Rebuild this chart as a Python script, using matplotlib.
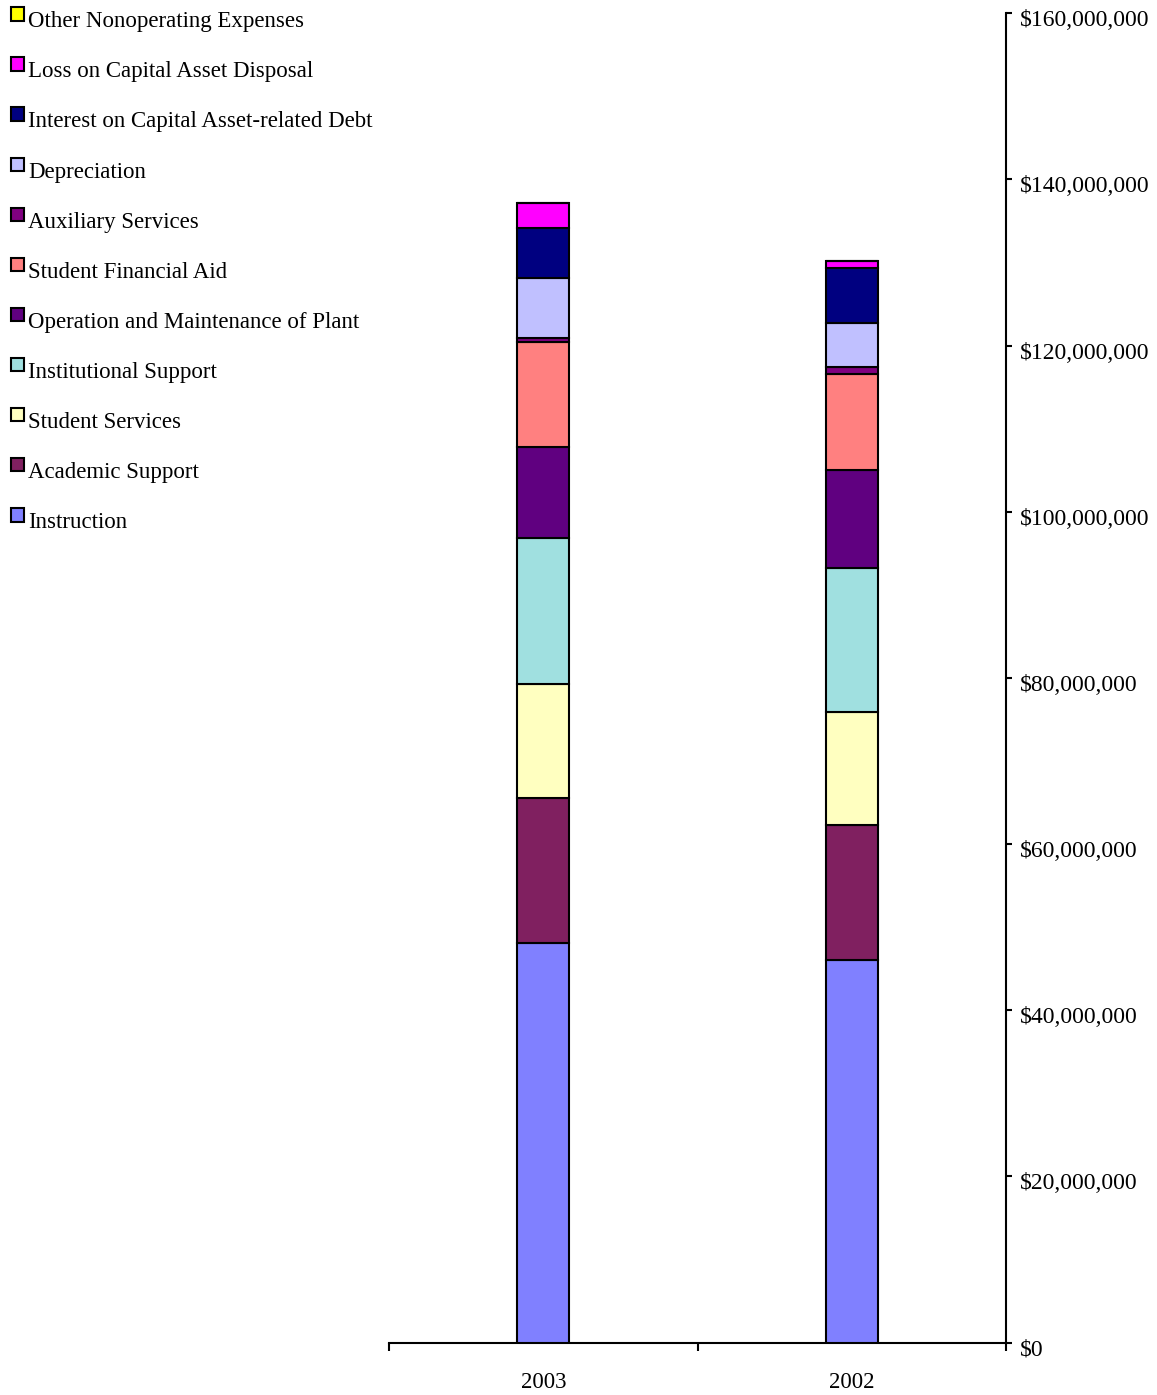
import matplotlib
matplotlib.use("Agg")
import matplotlib.pyplot as plt
from matplotlib.patches import Rectangle
from matplotlib.ticker import FuncFormatter, FixedLocator
from matplotlib.transforms import ScaledTranslation
import numpy as np

years = ["2003", "2002"]
series = [
    "Instruction",
    "Academic Support",
    "Student Services",
    "Institutional Support",
    "Operation and Maintenance of Plant",
    "Student Financial Aid",
    "Auxiliary Services",
    "Depreciation",
    "Interest on Capital Asset-related Debt",
    "Loss on Capital Asset Disposal",
    "Other Nonoperating Expenses",
]
# values in dollars for [2003, 2002]
instruction = [48_050_000, 46_040_000]
academic_support = [17_450_000, 16_250_000]
student_services = [13_760_000, 13_600_000]
institutional_support = [17_540_000, 17_330_000]
operation_maintenance = [11_030_000, 11_800_000]
student_financial_aid = [12_640_000, 11_560_000]
auxiliary_services = [480_000, 800_000]
depreciation = [7_220_000, 5_370_000]
interest_debt = [5_950_000, 6_550_000]
loss_disposal = [3_010_000, 850_000]
other_nonoperating = [0, 0]

values = [instruction, academic_support, student_services, institutional_support,
          operation_maintenance, student_financial_aid, auxiliary_services,
          depreciation, interest_debt, loss_disposal, other_nonoperating]
colors = ["#8080FF", "#802060", "#FFFFC0", "#A0E0E0", "#600080", "#FF8080",
          "#800080", "#C0C0FF", "#000080", "#FF00FF", "#FFFF00"]

plt.rcParams['font.family'] = ['Liberation Serif', 'DejaVu Serif']

W, H = 1157, 1395
fig = plt.figure(figsize=(W / 100, H / 100), dpi=100)
y0px, y1px = 1342.5, 13.3
ax = fig.add_axes([389 / W, 1 - y0px / H, (1006 - 389) / W, (y0px - y1px) / H])

x = np.arange(len(years))
bottom = np.zeros(len(years))
for name, vals, col in zip(series, values, colors):
    vals = np.array(vals, dtype=float)
    ax.bar(x, vals, width=0.168, bottom=bottom, color=col, edgecolor="black",
           linewidth=1.5, zorder=3)
    bottom += vals

ax.set_xlim(-0.5, len(years) - 0.5)
ax.set_ylim(0, 160_000_000)

for s in ["left", "top"]:
    ax.spines[s].set_visible(False)
ax.spines["right"].set_linewidth(1.5)
ax.spines["bottom"].set_linewidth(1.5)

ax.yaxis.tick_right()
ax.yaxis.set_major_locator(FixedLocator(np.arange(0, 160_000_001, 20_000_000)))
ax.yaxis.set_major_formatter(FuncFormatter(lambda v, p: f"${int(v):,}"))
ax.tick_params(axis="y", which="major", direction="out", length=4.5, width=1.5,
               labelsize=17, pad=5.5)
offset = ScaledTranslation(0, -5 / 100, fig.dpi_scale_trans)
for lab in ax.get_yticklabels():
    lab.set_transform(lab.get_transform() + offset)

ax.set_xticks(x)
ax.set_xticklabels(years)
ax.set_xticks(np.arange(-0.5, len(years)), minor=True)
ax.tick_params(axis="x", which="major", length=0, labelsize=16.5, pad=21)
ax.tick_params(axis="x", which="minor", direction="out", length=6, width=1.5)

# Legend (top entry = last series)
bl0 = 27.3
step = 50.1
for i, (name, col) in enumerate(zip(series[::-1], colors[::-1])):
    bl = bl0 + i * step
    rect = Rectangle((10.5 / W, 1 - (bl - 6.8) / H), 13.2 / W, 13.2 / H,
                     transform=fig.transFigure, facecolor=col, edgecolor="black",
                     linewidth=1.5)
    fig.add_artist(rect)
    fig.text(28 / W, 1 - bl / H, name, fontsize=16.5, va="baseline", ha="left")

fig.savefig("out.png", dpi=100)
